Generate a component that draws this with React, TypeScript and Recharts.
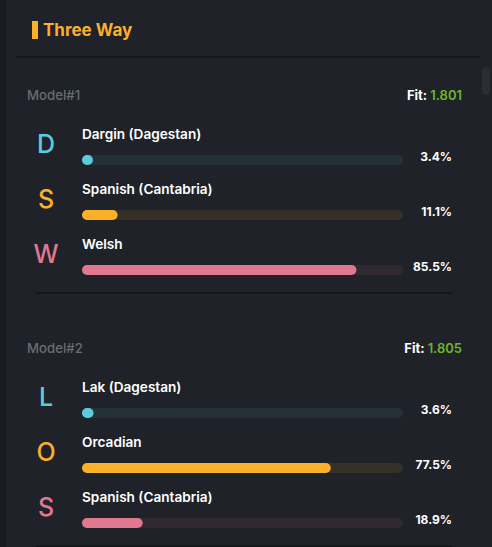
import { BarChart, Bar, XAxis, YAxis, LabelList } from 'recharts'

const model1Names = ['Dargin (Dagestan)', 'Spanish (Cantabria)', 'Welsh']
const model1Values = [3.4, 11.1, 85.5]
const model1Fit = '1.801'

const model2Names = ['Lak (Dagestan)', 'Orcadian', 'Spanish (Cantabria)']
const model2Values = [3.6, 77.5, 18.9]
const model2Fit = '1.805'

const rowColors = ['#5ccbe0', '#fbb02a', '#e07890']
const trackColors = ['#243238', '#353027', '#302930']

const FONT = 'Inter, "Noto Sans", sans-serif'
const BG = '#1f2229'
const W = 492

function LetterTick(props: any) {
  const { y, payload, index } = props
  const letter = String(payload.value).charAt(0)
  return (
    <text
      x={46}
      y={y - 6.5}
      textAnchor="middle"
      fill={rowColors[index % rowColors.length]}
      fontSize={25}
      fontWeight={500}
      fontFamily={FONT}
    >
      {letter}
    </text>
  )
}

function Track(props: any) {
  const { x, y, width, height, payload } = props
  return (
    <g>
      <rect x={x} y={y} width={width} height={height} rx={height / 2} fill={payload.track} />
      <text
        x={x + width + 49}
        y={y + height / 2 + 1}
        textAnchor="end"
        fill="#ffffff"
        fontSize={12}
        fontWeight={700}
        fontFamily={FONT}
      >
        {payload.value}%
      </text>
    </g>
  )
}

function Fill(props: any) {
  const { x, y, width, height, payload } = props
  const w = Math.max(width, height)
  return <rect x={x} y={y} width={w} height={height} rx={height / 2} fill={payload.color} />
}

function NameLabel(props: any) {
  const { x, y, value } = props
  return (
    <text x={x} y={y - 16.5} fill="#ffffff" fontSize={13.6} fontWeight={600} fontFamily={FONT}>
      {value}
    </text>
  )
}

function ModelBlock({ top, label, fit, names, values }: { top: number; label: string; fit: string; names: string[]; values: number[] }) {
  const data = names.map((name, i) => ({
    name,
    value: values[i],
    color: rowColors[i],
    track: trackColors[i],
  }))
  return (
    <div style={{ position: 'absolute', left: 0, top, width: W, height: 270 }}>
      <svg width={W} height={30} style={{ position: 'absolute', left: 0, top: 0 }}>
        <text x={27} y={20} fill="#6b6c6f" fontSize={13.2} fontWeight={500} fontFamily={FONT}>
          {label}
        </text>
        <text x={462} y={20} textAnchor="end" fontSize={13} fontFamily={FONT}>
          <tspan fill="#ffffff" fontWeight={700}>Fit: </tspan>
          <tspan fill="#6fb52c" fontWeight={600}>{fit}</tspan>
        </text>
      </svg>
      <div style={{ position: 'absolute', left: 0, top: 32 }}>
        <BarChart
          width={W}
          height={185}
          data={data}
          layout="vertical"
          margin={{ top: 20, right: 89, bottom: 0, left: 0 }}
          barCategoryGap={0}
        >
          <XAxis type="number" domain={[0, 100]} hide />
          <YAxis
            type="category"
            dataKey="name"
            width={82}
            axisLine={false}
            tickLine={false}
            tick={<LetterTick />}
          />
          <Bar dataKey="value" barSize={10} isAnimationActive={false} background={<Track />} shape={<Fill />}>
            <LabelList dataKey="name" content={<NameLabel />} />
          </Bar>
        </BarChart>
      </div>
      <div style={{ position: 'absolute', left: 36, top: 212, width: 416, height: 2, background: '#15171b' }} />
    </div>
  )
}

export default function App() {
  return (
    <div style={{ position: 'fixed', left: 0, top: 0, width: W, height: 547, background: BG, overflow: 'hidden' }}>
      <div style={{ position: 'absolute', left: 0, top: 0, width: 6, height: 547, background: '#181b1f' }} />
      <svg width={W} height={50} style={{ position: 'absolute', left: 0, top: 0 }}>
        <rect x={32} y={21} width={6} height={18} fill="#fbb02a" />
        <text x={43} y={36} fill="#fbb02a" fontSize={17} fontWeight={700} fontFamily={FONT}>
          Three Way
        </text>
      </svg>
      <div style={{ position: 'absolute', left: 16, top: 56, width: 464, height: 2, background: '#15171b' }} />
      <div style={{ position: 'absolute', left: 482, top: 67, width: 8, height: 28, borderRadius: 4, background: '#2a2d33' }} />
      <ModelBlock top={80} label="Model#1" fit={model1Fit} names={model1Names} values={model1Values} />
      <ModelBlock top={333} label="Model#2" fit={model2Fit} names={model2Names} values={model2Values} />
    </div>
  )
}
